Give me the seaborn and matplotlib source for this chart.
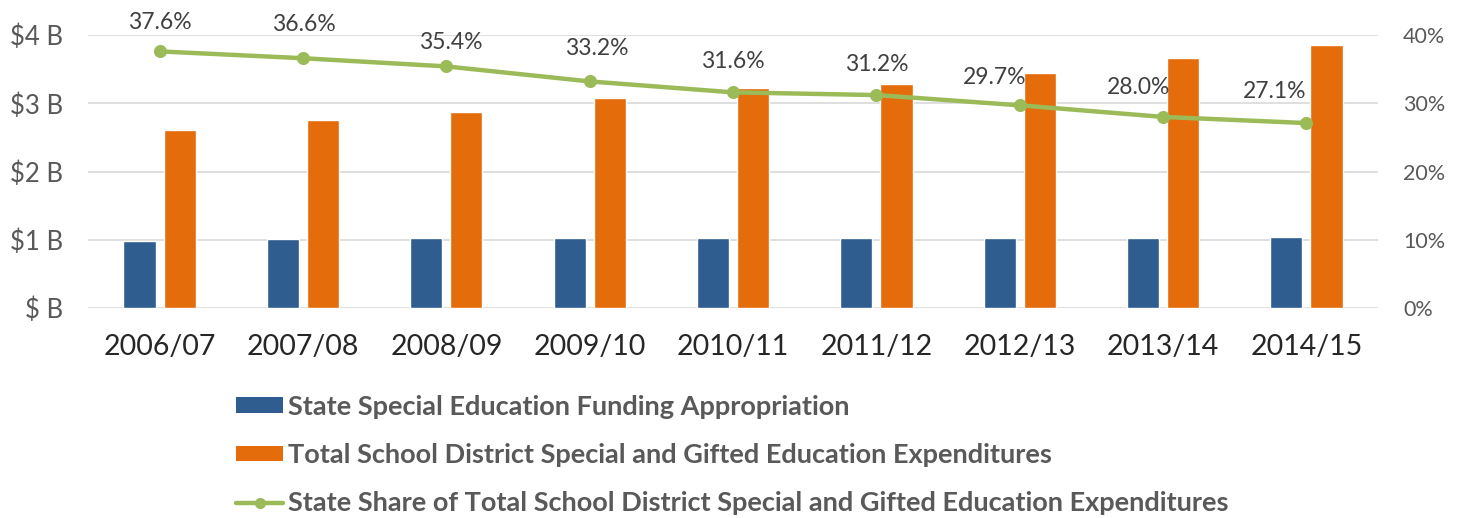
import numpy as np
import pandas as pd
import matplotlib
matplotlib.use("Agg")
import matplotlib.pyplot as plt
from matplotlib.patches import Patch
from matplotlib.lines import Line2D
from matplotlib.ticker import FuncFormatter
import seaborn as sns

# ---- data -------------------------------------------------------------
years = ["2006/07", "2007/08", "2008/09", "2009/10", "2010/11",
         "2011/12", "2012/13", "2013/14", "2014/15"]
state_appropriation = [0.98, 1.01, 1.02, 1.02, 1.02, 1.02, 1.02, 1.02, 1.04]   # $ billions
district_expenditures = [2.61, 2.75, 2.87, 3.07, 3.22, 3.28, 3.44, 3.66, 3.85]  # $ billions
state_share = [37.6, 36.6, 35.4, 33.2, 31.6, 31.2, 29.7, 28.0, 27.1]           # percent

series_names = ["State Special Education Funding Appropriation",
                "Total School District Special and Gifted Education Expenditures",
                "State Share of Total School District Special and Gifted Education Expenditures"]

# ---- style ------------------------------------------------------------
sns.set_theme(style="white")
plt.rcParams["font.family"] = ["Lato", "DejaVu Sans"]

BLUE = "#2F5D8F"
ORANGE = "#E46C0A"
GREEN = "#9BBB59"
GRID = "#D9D9D9"
TICK_GRAY = "#595959"

df = pd.DataFrame({
    "year": years * 2,
    "value": state_appropriation + district_expenditures,
    "series": [series_names[0]] * len(years) + [series_names[1]] * len(years),
})

fig = plt.figure(figsize=(14.63, 5.18), dpi=100)
ax = fig.add_axes([0.0601, 0.4054, 0.8819, 0.527])

sns.barplot(data=df, x="year", y="value", hue="series", order=years,
            hue_order=series_names[:2], palette=[BLUE, ORANGE],
            width=0.56, gap=0.2, saturation=1, ax=ax, legend=False)

ax.set_ylim(0, 4)
ax.set_xlim(-0.5, len(years) - 0.5)
ax.set_yticks([0, 1, 2, 3, 4])
ax.yaxis.set_major_formatter(FuncFormatter(lambda v, p: "$ B" if v == 0 else f"${v:.0f} B"))
ax.grid(axis="y", color=GRID, linewidth=1.2)
ax.set_axisbelow(True)
for s in ax.spines.values():
    s.set_visible(False)
ax.set_xlabel("")
ax.set_ylabel("")
ax.tick_params(axis="y", length=0, pad=18, labelsize=18.5, labelcolor=TICK_GRAY)
ax.tick_params(axis="x", length=0, pad=19, labelsize=20.5, labelcolor="#262626")

# ---- state share line on secondary axis ------------------------------
ax2 = ax.twinx()
sns.pointplot(x=years, y=state_share, order=years, color=GREEN, markers="o",
              markersize=7, linewidth=3.2, ax=ax2)
ax2.set_ylim(0, 40)
ax2.set_xlim(-0.5, len(years) - 0.5)
ax2.set_yticks([0, 10, 20, 30, 40])
ax2.yaxis.set_major_formatter(FuncFormatter(lambda v, p: f"{v:.0f}%"))
for s in ax2.spines.values():
    s.set_visible(False)
ax2.tick_params(axis="y", length=0, pad=18, labelsize=15.5, labelcolor=TICK_GRAY)
ax2.set_ylabel("")

# value labels above each point (offsets in points)
label_offsets = [(0, 21), (1, 24), (3, 17), (5, 24), (0, 22),
                 (0, 22), (-18, 20), (-18, 21), (-23, 23)]
for i, (v, off) in enumerate(zip(state_share, label_offsets)):
    ax2.annotate(f"{v:.1f}%", xy=(i, v), xytext=off, textcoords="offset points",
                 ha="center", va="center", fontsize=16.5, color="#404040",
                 annotation_clip=False)

# ---- legend -----------------------------------------------------------
handles = [
    Patch(facecolor=BLUE, edgecolor="none"),
    Patch(facecolor=ORANGE, edgecolor="none"),
    Line2D([0], [0], color=GREEN, linewidth=3.2, marker="o", markersize=7),
]
fig.legend(handles, series_names, loc="upper left", bbox_to_anchor=(0.1613, 0.238),
           frameon=False, borderpad=0, borderaxespad=0, handlelength=1.74,
           handleheight=0.52, handletextpad=0.18, labelspacing=0.9,
           prop={"family": ["Lato", "DejaVu Sans"], "weight": "bold", "size": 19.5},
           labelcolor=TICK_GRAY)

fig.savefig("out.png", dpi=100, facecolor="white")
